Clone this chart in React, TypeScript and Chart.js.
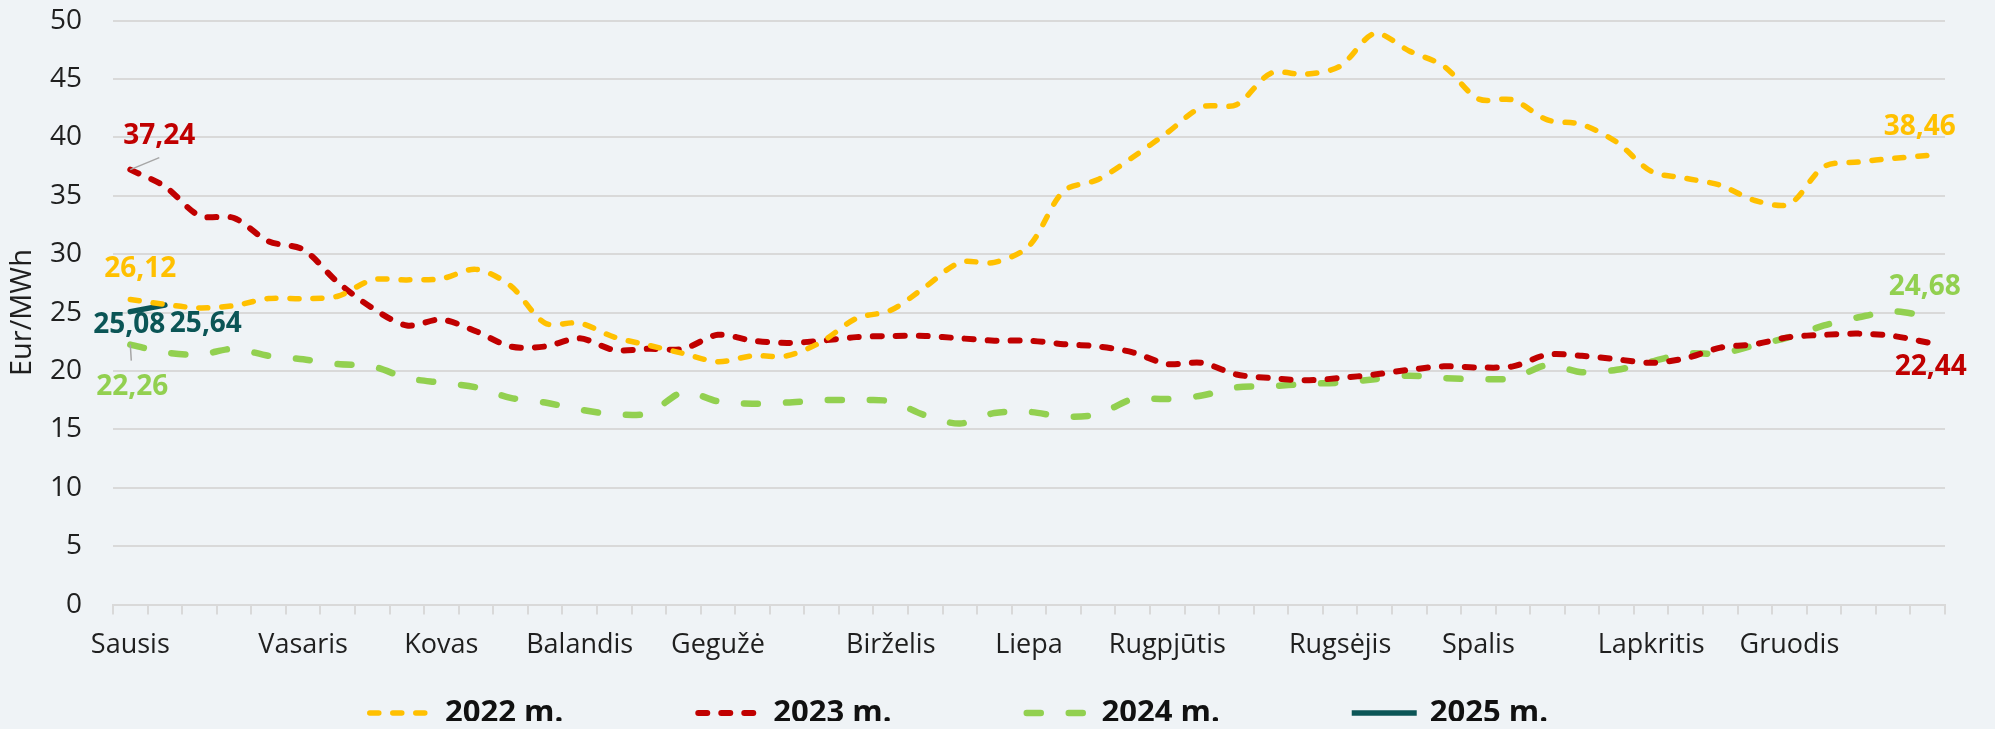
import React, { useEffect, useRef } from 'react';
import { Chart, registerables } from 'chart.js';

Chart.register(...registerables);

// ---------- data ----------
const MONTH_NAMES = ['Sausis', 'Vasaris', 'Kovas', 'Balandis', 'Gegužė', 'Birželis', 'Liepa', 'Rugpjūtis', 'Rugsėjis', 'Spalis', 'Lapkritis', 'Gruodis'];
const MONTH_WEEK_INDEX = [0, 5, 9, 13, 17, 22, 26, 30, 35, 39, 44, 48];
const WEEK_COUNT = 53;
const weekLabels: string[] = Array.from({ length: WEEK_COUNT }, (_, i) => {
  const k = MONTH_WEEK_INDEX.indexOf(i);
  return k >= 0 ? MONTH_NAMES[k] : '';
});

const Y_TICKS = [0, 5, 10, 15, 20, 25, 30, 35, 40, 45, 50];

const SERIES_2022 = [26.12, 25.7, 25.4, 25.6, 26.2, 26.2, 26.4, 27.8, 27.8, 27.9, 28.7, 27.3, 24.1, 24.1, 22.9, 22.2, 21.5, 20.8, 21.3, 21.3, 22.5, 24.5, 25.2, 27.2, 29.3, 29.3, 30.7, 35.4, 36.4, 38.3, 40.4, 42.6, 42.8, 45.5, 45.4, 46.1, 48.9, 47.4, 46.1, 43.3, 43.2, 41.5, 41.1, 39.6, 37.1, 36.5, 35.9, 34.6, 34.3, 37.5, 37.9, 38.2, 38.46];
const SERIES_2023 = [37.24, 35.8, 33.3, 33.1, 31.1, 30.4, 27.6, 25.4, 23.9, 24.4, 23.4, 22.1, 22.1, 22.8, 21.8, 21.9, 21.9, 23.1, 22.6, 22.4, 22.6, 22.9, 23.0, 23.0, 22.8, 22.6, 22.6, 22.3, 22.1, 21.6, 20.6, 20.7, 19.7, 19.4, 19.2, 19.4, 19.7, 20.1, 20.4, 20.3, 20.4, 21.4, 21.3, 21.0, 20.7, 21.1, 22.0, 22.3, 22.9, 23.1, 23.2, 23.0, 22.44];
const SERIES_2024 = [22.26, 21.6, 21.4, 21.9, 21.3, 21.0, 20.6, 20.4, 19.4, 19.0, 18.6, 17.7, 17.3, 16.7, 16.3, 16.4, 18.2, 17.4, 17.2, 17.3, 17.5, 17.5, 17.4, 16.2, 15.5, 16.4, 16.5, 16.1, 16.3, 17.6, 17.6, 17.9, 18.6, 18.7, 18.9, 19.0, 19.3, 19.6, 19.4, 19.3, 19.4, 20.5, 19.9, 20.1, 20.8, 21.5, 21.5, 22.2, 22.9, 23.9, 24.6, 25.1, 24.68];
const SERIES_2025 = [25.08, 25.64];

const SERIES_NAMES = ['2022 m.', '2023 m.', '2024 m.', '2025 m.'];

// ---------- styles ----------
const FONT = "'Open Sans', 'Noto Sans', sans-serif";
const BG = '#EFF3F6';
const GRID = '#D9D9D9';
const TEXT = '#1F1F1F';
const COLORS = ['#FFC000', '#C00000', '#92D050', '#0B5556'];
const WIDTHS = [5.5, 6, 6.5, 5.5];
const DASHES: number[][] = [[9, 14], [9, 14], [14, 28], []];

// value labels: dataset index, point index, label offset, optional leader
const VALUE_LABELS = [
  { ds: 1, idx: 0, dx: 29, dy: -34, leader: [0, 0, 29, -12] },
  { ds: 0, idx: 0, dx: 10, dy: -30 },
  { ds: 3, idx: 0, dx: -1, dy: 13 },
  { ds: 3, idx: 1, dx: 41, dy: 19 },
  { ds: 2, idx: 0, dx: 2, dy: 42, leader: [0, 0, 1, 16] },
  { ds: 0, idx: 52, dx: -8, dy: -28 },
  { ds: 2, idx: 52, dx: -3, dy: -29 },
  { ds: 1, idx: 52, dx: 3, dy: 25 },
];

const fmt = (v: number) => v.toFixed(2).replace('.', ',');

const valueLabelPlugin = {
  id: 'valueLabels',
  afterDatasetsDraw(chart: any) {
    const ctx = chart.ctx;
    ctx.save();
    ctx.font = `bold 28px ${FONT}`;
    ctx.textAlign = 'center';
    ctx.textBaseline = 'middle';
    for (const l of VALUE_LABELS) {
      const meta = chart.getDatasetMeta(l.ds);
      const pt = meta.data[l.idx];
      if (!pt) continue;
      const v = chart.data.datasets[l.ds].data[l.idx] as number;
      if (l.leader) {
        ctx.strokeStyle = '#A6A6A6';
        ctx.lineWidth = 1.5;
        ctx.setLineDash([]);
        ctx.beginPath();
        ctx.moveTo(pt.x + l.leader[0], pt.y + l.leader[1]);
        ctx.lineTo(pt.x + l.leader[2], pt.y + l.leader[3]);
        ctx.stroke();
      }
      ctx.fillStyle = COLORS[l.ds];
      ctx.fillText(fmt(v), pt.x + l.dx, pt.y + l.dy);
    }
    ctx.restore();
  },
};

const legendPlugin = {
  id: 'customLegend',
  afterDraw(chart: any) {
    const ctx = chart.ctx;
    ctx.save();
    ctx.font = `bold 31px ${FONT}`;
    const sample = 65;
    const gapText = 13;
    const gapItem = 132;
    const items = chart.data.datasets.map((ds: any, i: number) => ({
      label: ds.label as string,
      i,
      w: sample + gapText + ctx.measureText(ds.label).width,
    }));
    const total = items.reduce((a: number, b: any) => a + b.w, 0) + gapItem * (items.length - 1);
    let x = (chart.width - total) / 2 - 40;
    const y = chart.height - 8;
    for (const it of items) {
      ctx.strokeStyle = COLORS[it.i];
      ctx.lineWidth = WIDTHS[it.i];
      ctx.lineCap = DASHES[it.i].length ? 'round' : 'butt';
      ctx.setLineDash(DASHES[it.i]);
      ctx.beginPath();
      const pad = DASHES[it.i].length ? WIDTHS[it.i] / 2 : 0;
      ctx.moveTo(x + pad, y);
      ctx.lineTo(x + sample - pad, y);
      ctx.stroke();
      ctx.setLineDash([]);
      ctx.fillStyle = '#111111';
      ctx.textAlign = 'left';
      ctx.textBaseline = 'middle';
      ctx.fillText(it.label, x + sample + gapText, y);
      x += it.w + gapItem;
    }
    ctx.restore();
  },
};

export default function App() {
  const canvasRef = useRef<HTMLCanvasElement | null>(null);

  useEffect(() => {
    document.body.style.backgroundColor = BG;
    const canvas = canvasRef.current;
    if (!canvas) return;
    const seriesData = [SERIES_2022, SERIES_2023, SERIES_2024, SERIES_2025];
    const chart = new Chart(canvas, {
      type: 'line',
      data: {
        labels: weekLabels,
        datasets: seriesData.map((d, i) => ({
          label: SERIES_NAMES[i],
          data: d,
          borderColor: COLORS[i],
          backgroundColor: COLORS[i],
          borderWidth: WIDTHS[i],
          borderDash: DASHES[i],
          borderCapStyle: 'round',
          borderJoinStyle: 'round',
          pointRadius: 0,
          pointHoverRadius: 0,
          tension: 0.3,
          fill: false,
        })) as any,
      },
      options: {
        responsive: true,
        maintainAspectRatio: false,
        animation: false,
        events: [],
        layout: { padding: { top: 0, right: 42, bottom: 44, left: 0 } },
        plugins: {
          legend: { display: false },
          tooltip: { enabled: false },
        },
        scales: {
          x: {
            type: 'category',
            offset: true,
            grid: {
              offset: true,
              drawOnChartArea: false,
              drawTicks: true,
              tickLength: 10,
              color: GRID,
              lineWidth: 2,
            },
            border: { display: true, color: GRID, width: 2 },
            ticks: {
              autoSkip: false,
              maxRotation: 0,
              minRotation: 0,
              padding: 15,
              color: TEXT,
              font: { family: FONT, size: 27 },
            },
          },
          y: {
            min: 0,
            max: 50,
            afterBuildTicks: (scale: any) => {
              scale.ticks = Y_TICKS.map((v) => ({ value: v }));
            },
            grid: { color: GRID, lineWidth: 2, drawTicks: true, tickLength: 31, tickColor: 'rgba(0,0,0,0)' },
            border: { display: false },
            ticks: {
              padding: 0,
              color: TEXT,
              font: { family: FONT, size: 28, lineHeight: 0.9 },
            },
            title: {
              display: true,
              text: 'Eur/MWh',
              color: TEXT,
              font: { family: FONT, size: 29, lineHeight: 1 },
              padding: { top: 0, bottom: 13 },
            },
          },
        },
      },
      plugins: [valueLabelPlugin, legendPlugin],
    });
    return () => chart.destroy();
  }, []);

  return (
    <div style={{ position: 'relative', width: '100%', height: '713px' }}>
      <canvas ref={canvasRef} />
    </div>
  );
}
